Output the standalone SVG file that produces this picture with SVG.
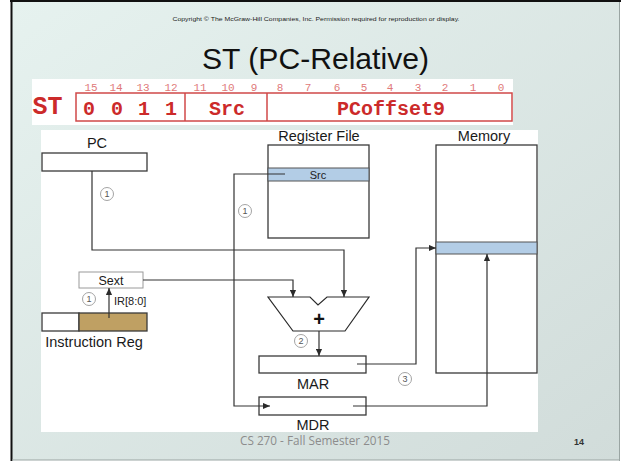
<svg xmlns="http://www.w3.org/2000/svg" width="621" height="461" viewBox="0 0 621 461">
  <defs>
    <linearGradient id="slideBg" x1="0" y1="0" x2="1" y2="1">
      <stop offset="0" stop-color="#e6f2ef"/>
      <stop offset="1" stop-color="#d1dcda"/>
    </linearGradient>
    <marker id="arrow" viewBox="0 0 8 8" refX="8" refY="4" markerWidth="7" markerHeight="7" markerUnits="userSpaceOnUse" orient="auto">
      <path d="M0,0.5 L8,4 L0,7.5 Z" fill="#2a2a2a"/>
    </marker>
    <style>
      .sans { font-family: "Liberation Sans", Arial, sans-serif; }
      .mono { font-family: "Liberation Mono", "Courier New", monospace; }
      .bitnum { font-family: "Liberation Mono", monospace; font-size: 11px; fill: #e07a7a; text-anchor: middle; }
      .field { font-family: "Liberation Mono", monospace; font-size: 20px; font-weight: bold; fill: #cc2a2a; text-anchor: middle; }
      .box { fill: #ffffff; stroke: #3a3a3a; stroke-width: 1.3; }
      .band { fill: #b3cde6; stroke: #555; stroke-width: 1; }
      .label { font-family: "Liberation Sans", Arial, sans-serif; font-size: 14.5px; fill: #1a1a1a; text-anchor: middle; }
      .wire { fill: none; stroke: #333; stroke-width: 1.2; }
      .step circle { fill: #ffffff; stroke: #9a9a9a; stroke-width: 0.9; }
      .step text { font-family: "Liberation Sans", Arial, sans-serif; font-size: 9px; fill: #555; text-anchor: middle; }
    </style>
  </defs>

  <!-- slide frame -->
  <rect x="0" y="0" width="621" height="461" fill="#ffffff"/>
  <rect x="11" y="1" width="609" height="459" fill="url(#slideBg)"/>
  <line x1="11.5" y1="0" x2="11.5" y2="461" stroke="#111" stroke-width="2"/>
  <line x1="10" y1="1" x2="621" y2="1" stroke="#111" stroke-width="2"/>
  <line x1="619.5" y1="2" x2="619.5" y2="461" stroke="#9aa5a3" stroke-width="1"/>
  <line x1="12" y1="460" x2="620" y2="460" stroke="#9aa5a3" stroke-width="1"/>

  <text x="316" y="21" class="sans" font-size="6" fill="#222" text-anchor="middle" textLength="287" lengthAdjust="spacingAndGlyphs">Copyright © The McGraw-Hill Companies, Inc.  Permission required for reproduction or display.</text>

  <text x="315.5" y="69" class="sans" font-size="29" fill="#111" text-anchor="middle" textLength="227" lengthAdjust="spacingAndGlyphs">ST (PC-Relative)</text>

  <!-- instruction format -->
  <g id="format">
    <rect x="32" y="79" width="481" height="46" fill="#ffffff"/>
    <g>
      <text x="91" y="91" class="bitnum">15</text>
      <text x="116" y="91" class="bitnum">14</text>
      <text x="143" y="91" class="bitnum">13</text>
      <text x="171" y="91" class="bitnum">12</text>
      <text x="200" y="91" class="bitnum">11</text>
      <text x="228" y="91" class="bitnum">10</text>
      <text x="254" y="91" class="bitnum">9</text>
      <text x="280" y="91" class="bitnum">8</text>
      <text x="308" y="91" class="bitnum">7</text>
      <text x="337" y="91" class="bitnum">6</text>
      <text x="364" y="91" class="bitnum">5</text>
      <text x="390" y="91" class="bitnum">4</text>
      <text x="418" y="91" class="bitnum">3</text>
      <text x="445" y="91" class="bitnum">2</text>
      <text x="473" y="91" class="bitnum">1</text>
      <text x="501" y="91" class="bitnum">0</text>
    </g>
    <text x="47.5" y="114" class="mono" font-size="25" font-weight="bold" fill="#cc2a2a" text-anchor="middle">ST</text>
    <rect x="76" y="93" width="436" height="28" fill="none" stroke="#d04848" stroke-width="1.5"/>
    <line x1="185" y1="93" x2="185" y2="121" stroke="#d04848" stroke-width="1.5"/>
    <line x1="267" y1="93" x2="267" y2="121" stroke="#d04848" stroke-width="1.5"/>
    <text x="89" y="115" class="field">0</text>
    <text x="117" y="115" class="field">0</text>
    <text x="144" y="115" class="field">1</text>
    <text x="171" y="115" class="field">1</text>
    <text x="227" y="115" class="field">Src</text>
    <text x="391" y="115" class="field">PCoffset9</text>
  </g>

  <!-- datapath canvas -->
  <rect x="41" y="130" width="497" height="302" fill="#ffffff"/>

  <g id="pc">
    <text x="97" y="148" class="label">PC</text>
    <rect x="42" y="153" width="105" height="18" class="box"/>
  </g>

  <g id="regfile">
    <text x="319" y="141" class="label">Register File</text>
    <rect x="268" y="145" width="101" height="93" class="box"/>
    <rect x="268" y="168" width="101" height="13" class="band"/>
    <text x="318" y="178.5" class="sans" font-size="11" fill="#222" text-anchor="middle">Src</text>
  </g>

  <g id="memory">
    <text x="484" y="141" class="label">Memory</text>
    <rect x="436" y="145" width="101" height="228" class="box"/>
    <rect x="436" y="242" width="101" height="12" class="band"/>
  </g>

  <g id="sext">
    <rect x="79" y="272" width="64" height="16" fill="#ffffff" stroke="#9a9a9a" stroke-width="1"/>
    <text x="111" y="285" class="sans" font-size="12.5" fill="#1a1a1a" text-anchor="middle">Sext</text>
  </g>

  <g id="ir">
    <rect x="42" y="313" width="37" height="18" class="box"/>
    <rect x="79" y="313" width="68" height="18" fill="#bfa063" stroke="#3a3a3a" stroke-width="1.3"/>
    <text x="94" y="347" class="label">Instruction Reg</text>
  </g>

  <g id="adder">
    <path d="M268,297 L310,297 L318,305 L327,297 L369,297 L345,331 L293,331 Z" fill="#ffffff" stroke="#2a2a2a" stroke-width="1.2"/>
    <text x="319" y="326" class="sans" font-size="20" font-weight="bold" fill="#111" text-anchor="middle">+</text>
  </g>

  <g id="mar">
    <rect x="259" y="356" width="107" height="17" class="box"/>
    <text x="313" y="389" class="label">MAR</text>
  </g>

  <g id="mdr">
    <rect x="259" y="397" width="107" height="18" class="box"/>
    <text x="313" y="430" class="label">MDR</text>
  </g>

  <!-- connectors -->
  <g id="connectors">
    <path class="wire" d="M92,171 V250 H344 V297" marker-end="url(#arrow)"/>
    <path class="wire" d="M143,280 H293 V297" marker-end="url(#arrow)"/>
    <path class="wire" d="M109,318 V288" marker-end="url(#arrow)"/>
    <path class="wire" d="M319,331 V356" marker-end="url(#arrow)"/>
    <path class="wire" d="M357,364 H416 V248 H436" marker-end="url(#arrow)"/>
    <path class="wire" d="M285,174 H234 V406 H270" marker-end="url(#arrow)"/>
    <path class="wire" d="M353,406 H487 V254" marker-end="url(#arrow)"/>
    <text x="114" y="305" class="sans" font-size="11" fill="#222">IR[8:0]</text>
  </g>

  <!-- step markers -->
  <g class="step">
    <circle cx="107" cy="194" r="6.5"/><text x="107" y="197.2">1</text>
    <circle cx="245" cy="211" r="6.5"/><text x="245" y="214.2">1</text>
    <circle cx="89" cy="299" r="6.5"/><text x="89" y="302.2">1</text>
    <circle cx="301" cy="341" r="6.5"/><text x="301" y="344.2">2</text>
    <circle cx="405" cy="379" r="6.5"/><text x="405" y="382.2">3</text>
  </g>

  <!-- footer -->
  <text x="315" y="445" font-family="'Open Sans', 'Liberation Sans', sans-serif" font-size="12" fill="#8c8c8c" text-anchor="middle" textLength="150" lengthAdjust="spacingAndGlyphs">CS 270 - Fall Semester 2015</text>
  <text x="579" y="445" class="sans" font-size="9" font-weight="bold" fill="#333" text-anchor="middle">14</text>
</svg>
